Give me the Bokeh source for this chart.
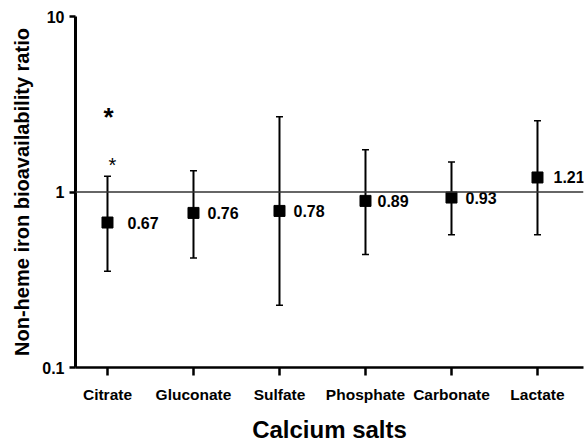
from bokeh.plotting import figure
from bokeh.models import (ColumnDataSource, FixedTicker, Whisker, TeeHead, Span, Range1d)
from bokeh.core.properties import value
from bokeh.embed import file_html
from bokeh.resources import INLINE

salts = ["Citrate", "Gluconate", "Sulfate", "Phosphate", "Carbonate", "Lactate"]
ratio = [0.67, 0.76, 0.78, 0.89, 0.93, 1.21]
ci_upper = [1.23, 1.32, 2.68, 1.74, 1.48, 2.55]
ci_lower = [0.354, 0.42, 0.226, 0.44, 0.57, 0.57]
y_ticks = [0.1, 1, 10]
y_tick_labels = ["0.1", "1", "10"]

# significance marks (Citrate)
star_big_y = [2.79]
star_small_y = [1.47]

SANS = "'Liberation Sans', Arial, sans-serif"

idx = list(range(len(salts)))
label_dx = [20, 14, 14, 12, 14, 16]
src = ColumnDataSource(dict(
    x=idx, y=ratio, upper=ci_upper, lower=ci_lower,
    lab=[f"{v:.2f}" for v in ratio], dx=label_dx,
))

p = figure(width=585, height=445, y_axis_type="log",
           x_range=Range1d(-0.372, 5.535), y_range=Range1d(0.1, 10),
           output_backend="svg", toolbar_location=None,
           min_border_left=75, min_border_right=2, min_border_top=16,
           min_border_bottom=78)
p.outline_line_color = None
p.grid.visible = False
p.background_fill_color = "white"

# reference line at 1
p.add_layout(Span(location=1, dimension="width", line_color="#333333", line_width=1.5))

w = Whisker(base="x", upper="upper", lower="lower", source=src,
            line_color="black", line_width=2,
            upper_head=TeeHead(size=7, line_width=1.5, line_color="black"),
            lower_head=TeeHead(size=7, line_width=1.5, line_color="black"))
p.add_layout(w)

p.scatter("x", "y", source=src, marker="square", size=11, color="black")
p.text("x", "y", text="lab", source=src, x_offset="dx", text_baseline="middle",
       text_font=value(SANS), text_font_style="bold", text_font_size="16px",
       text_color="black")

p.text(x=[0], y=star_big_y, text=["*"], x_offset=1, text_align="center",
       text_baseline="middle", text_font=value(SANS), text_font_style="bold",
       text_font_size="26px", text_color="black", y_offset=3)
p.text(x=[0], y=star_small_y, text=["*"], x_offset=5, text_align="center",
       text_baseline="middle", text_font=value(SANS), text_font_style="normal",
       text_font_size="20px", text_color="black", y_offset=2)

# axes
xa = p.xaxis[0]
xa.ticker = FixedTicker(ticks=idx)
xa.major_label_overrides = {i: s for i, s in zip(idx, salts)}
xa.minor_tick_line_color = None
xa.major_tick_in = 0
xa.major_tick_out = 8
xa.major_tick_line_width = 2.5
xa.axis_line_width = 2.5
xa.major_label_text_font = SANS
xa.major_label_text_font_style = "bold"
xa.major_label_text_font_size = "15.5px"
xa.major_label_text_color = "black"
xa.major_label_standoff = 10
xa.axis_label = "Calcium salts"
xa.axis_label_text_font = SANS
xa.axis_label_text_font_style = "bold"
xa.axis_label_text_font_size = "24px"
xa.axis_label_text_color = "black"
xa.axis_label_standoff = 10

ya = p.yaxis[0]
ya.ticker = FixedTicker(ticks=y_ticks, minor_ticks=[])
ya.major_label_overrides = {t: s for t, s in zip(y_ticks, y_tick_labels)}
ya.minor_tick_line_color = None
ya.major_tick_in = 0
ya.major_tick_out = 6
ya.major_tick_line_width = 2.5
ya.axis_line_width = 3
ya.major_label_text_font = SANS
ya.major_label_text_font_style = "bold"
ya.major_label_text_font_size = "16px"
ya.major_label_text_color = "black"
ya.major_label_standoff = 5
ya.axis_label = "Non-heme iron bioavailability ratio"
ya.axis_label_text_font = SANS
ya.axis_label_text_font_style = "bold"
ya.axis_label_text_font_size = "20px"
ya.axis_label_text_color = "black"
ya.axis_label_standoff = 6

open("out.html", "w").write(file_html(p, INLINE))
